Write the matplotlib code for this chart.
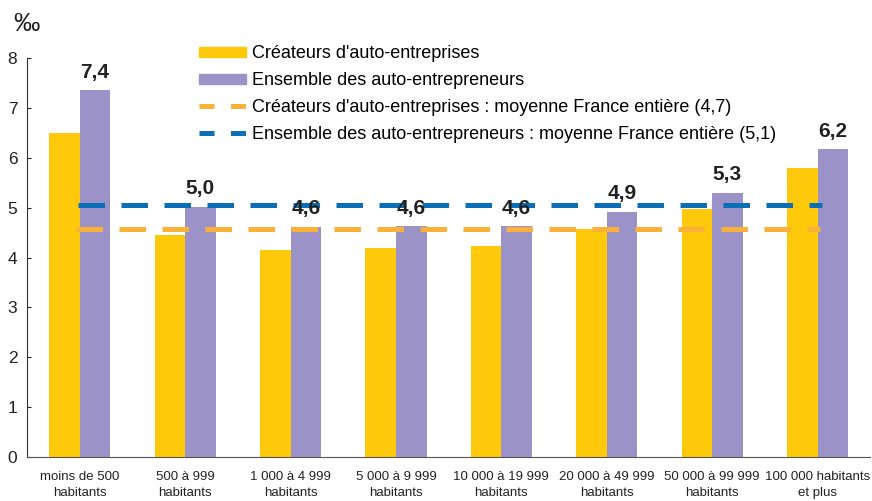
import numpy as np
import matplotlib
matplotlib.use('Agg')
import matplotlib.pyplot as plt
from matplotlib.patches import Patch
from matplotlib.lines import Line2D

plt.rcParams['font.family'] = ['Liberation Sans', 'DejaVu Sans']

categories = ["moins de 500\nhabitants", "500 à 999\nhabitants", "1 000 à 4 999\nhabitants",
              "5 000 à 9 999\nhabitants", "10 000 à 19 999\nhabitants", "20 000 à 49 999\nhabitants",
              "50 000 à 99 999\nhabitants", "100 000 habitants\net plus"]
createurs = [6.5, 4.46, 4.16, 4.2, 4.24, 4.57, 4.97, 5.8]
ensemble = [7.36, 5.02, 4.62, 4.63, 4.63, 4.92, 5.3, 6.18]
ensemble_labels = ["7,4", "5,0", "4,6", "4,6", "4,6", "4,9", "5,3", "6,2"]
moy_createurs = 4.58
moy_ensemble = 5.05

yellow = '#FEC90B'
purple = '#9B93C8'
orange = '#FAB13A'
blue = '#0A6FB7'

fig = plt.figure(figsize=(8.72, 5.01), dpi=100)
ax = fig.add_axes([0.031, 0.088, 0.967, 0.796])

x = np.arange(len(categories))
w = 0.29
ax.bar(x - w / 2, createurs, w, color=yellow)
ax.bar(x + w / 2, ensemble, w, color=purple)

# national averages
ax.plot([-0.04, 7.02], [moy_createurs, moy_createurs], color=orange, lw=3.6,
        dashes=(5.3, 3.3), solid_capstyle='butt', dash_capstyle='butt')
ax.plot([-0.02, 7.04], [moy_ensemble, moy_ensemble], color=blue, lw=3.6,
        dashes=(5.3, 3.3), solid_capstyle='butt', dash_capstyle='butt')

for xi, v, lab in zip(x, ensemble, ensemble_labels):
    ax.annotate(lab, (xi + w / 2, v), xytext=(0, 6), textcoords='offset points',
                ha='center', va='bottom', fontsize=15, fontweight='bold', color='#222222')

ax.set_xlim(-0.5, 7.5)
ax.set_ylim(0, 8)
ax.set_yticks(range(9))
ax.set_xticks(x)
ax.set_xticklabels(categories, fontsize=9.5, color='#222222', linespacing=1.45)
ax.tick_params(axis='x', length=0, pad=10)
ax.tick_params(axis='y', direction='in', length=3, labelsize=12.5, pad=7, colors='#222222')
for s in ['top', 'right']:
    ax.spines[s].set_visible(False)
ax.spines['left'].set_color('#333333')
ax.spines['bottom'].set_color('#555555')

fig.text(0.015, 0.953, "‰", fontsize=19, color='#222222', ha='left', va='center')

handles = [
    Patch(color=yellow),
    Patch(color=purple),
    Line2D([], [], color=orange, lw=3.6, dashes=(3, 3.3), dash_capstyle='butt'),
    Line2D([], [], color=blue, lw=3.6, dashes=(3, 3.3), dash_capstyle='butt'),
]
labels = ["Créateurs d'auto-entreprises", "Ensemble des auto-entrepreneurs",
          "Créateurs d'auto-entreprises : moyenne France entière (4,7)",
          "Ensemble des auto-entrepreneurs : moyenne France entière (5,1)"]
ax.legend(handles, labels, loc='upper left', bbox_to_anchor=(0.195, 1.05), frameon=False,
          fontsize=13, handlelength=2.6, handleheight=0.5, handletextpad=0.35,
          labelspacing=0.55, borderaxespad=0)

fig.savefig('out.png', dpi=100)
